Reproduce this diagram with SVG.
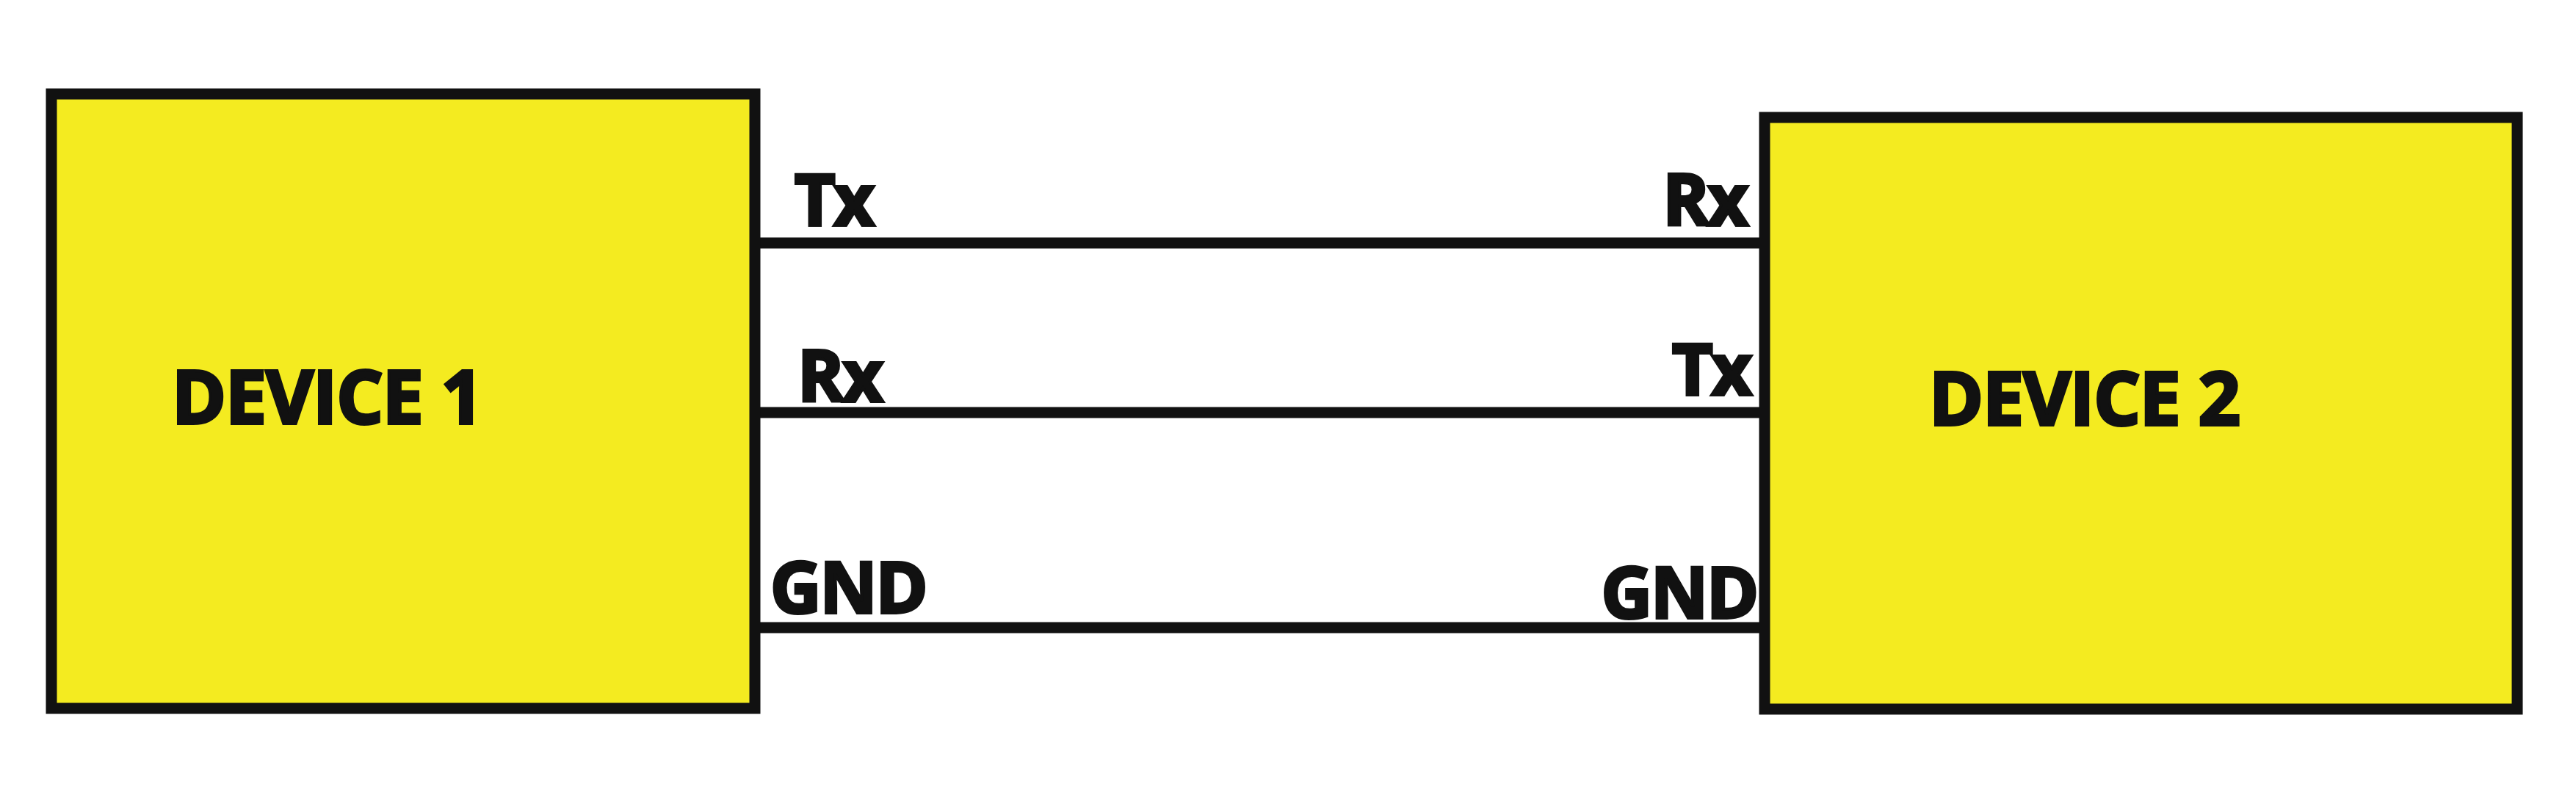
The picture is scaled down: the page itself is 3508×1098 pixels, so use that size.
<svg xmlns="http://www.w3.org/2000/svg" width="3508" height="1098" viewBox="0 0 3508 1098">
<style>
.box{fill:#F4EB20;stroke:#111;stroke-width:15}
.wire{stroke:#111;stroke-width:15;fill:none}
.lbl{font-family:"Open Sans","Liberation Sans",sans-serif;font-weight:700;font-size:96px;fill:#111;stroke:#111;stroke-width:4;letter-spacing:-2px}
.dev{font-family:"Open Sans","Liberation Sans",sans-serif;font-weight:700;font-size:100px;fill:#111;stroke:#111;stroke-width:4;letter-spacing:-1px}
</style>
<rect x="0" y="0" width="3508" height="1098" fill="#fff"/>
<g id="connectors">
<line class="wire" x1="1028" y1="331" x2="2403" y2="331"/>
<line class="wire" x1="1028" y1="562" x2="2403" y2="562"/>
<line class="wire" x1="1028" y1="855" x2="2410" y2="855"/>
</g>
<g id="device1">
<rect class="box" x="70" y="128" width="958" height="837"/>
<text class="dev" x="234" y="577">DEVICE 1</text>
<text class="lbl" x="1082" y="307">Tx</text>
<text class="lbl" x="1086" y="547">Rx</text>
<text class="lbl" x="1049" y="835">GND</text>
</g>
<g id="device2">
<rect class="box" x="2403" y="160" width="1025" height="806"/>
<text class="dev" x="2627" y="579">DEVICE 2</text>
<text class="lbl" x="2379" y="307" text-anchor="end">Rx</text>
<text class="lbl" x="2384" y="538" text-anchor="end">Tx</text>
<text class="lbl" x="2393" y="842" text-anchor="end">GND</text>
</g>
</svg>
